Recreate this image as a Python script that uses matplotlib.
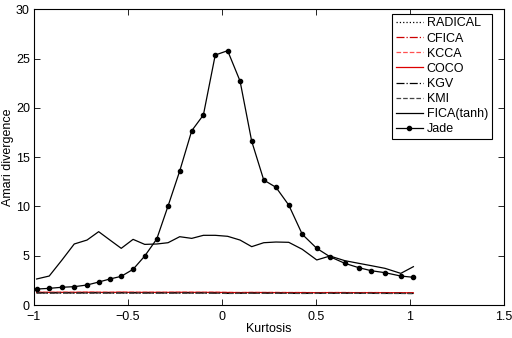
import matplotlib
matplotlib.use("Agg")
import matplotlib.pyplot as plt

plt.rcParams['font.family'] = ['Liberation Sans', 'DejaVu Sans']

# kurtosis grid
kurtosis = [-0.986, -0.919, -0.851, -0.786, -0.718, -0.656, -0.596, -0.536, -0.473, -0.411,
            -0.347, -0.287, -0.225, -0.161, -0.099, -0.036, 0.030, 0.096, 0.158, 0.222,
            0.287, 0.355, 0.427, 0.504, 0.574, 0.653, 0.727, 0.794, 0.867, 0.951, 1.018]

jade = [1.62, 1.69, 1.80, 1.86, 2.03, 2.33, 2.64, 2.91, 3.62, 4.97,
        6.70, 10.04, 13.59, 17.68, 19.28, 25.36, 25.80, 22.72, 16.61, 12.68,
        11.94, 10.14, 7.17, 5.75, 4.90, 4.23, 3.79, 3.48, 3.28, 2.94, 2.81]

fica_tanh = [2.64, 2.94, 4.57, 6.19, 6.59, 7.44, 6.59, 5.75, 6.66, 6.15,
             6.19, 6.32, 6.93, 6.76, 7.07, 7.07, 6.97, 6.59, 5.92, 6.32,
             6.39, 6.36, 5.65, 4.57, 4.97, 4.50, 4.23, 3.99, 3.72, 3.21, 3.89]

radical = [1.25, 1.24, 1.25, 1.24, 1.25, 1.25, 1.24, 1.25, 1.24, 1.25,
           1.24, 1.25, 1.25, 1.24, 1.25, 1.24, 1.22, 1.23, 1.24, 1.23,
           1.24, 1.23, 1.22, 1.23, 1.22, 1.23, 1.22, 1.22, 1.21, 1.22, 1.20]
cfica = [1.27, 1.26, 1.27, 1.26, 1.27, 1.27, 1.26, 1.27, 1.26, 1.27,
         1.26, 1.27, 1.26, 1.26, 1.27, 1.26, 1.25, 1.24, 1.26, 1.25,
         1.26, 1.24, 1.25, 1.24, 1.25, 1.25, 1.24, 1.25, 1.24, 1.23, 1.22]
kcca = [1.30, 1.29, 1.30, 1.29, 1.30, 1.30, 1.29, 1.30, 1.30, 1.29,
        1.30, 1.29, 1.30, 1.30, 1.29, 1.30, 1.28, 1.27, 1.28, 1.27,
        1.28, 1.27, 1.27, 1.26, 1.27, 1.27, 1.26, 1.27, 1.26, 1.25, 1.24]
coco = [1.28, 1.28, 1.28, 1.28, 1.29, 1.28, 1.28, 1.29, 1.28, 1.28,
        1.28, 1.28, 1.29, 1.28, 1.28, 1.28, 1.27, 1.26, 1.27, 1.27,
        1.26, 1.26, 1.26, 1.25, 1.26, 1.26, 1.25, 1.25, 1.25, 1.24, 1.23]
kgv = [1.23, 1.23, 1.24, 1.23, 1.23, 1.24, 1.23, 1.23, 1.24, 1.22,
       1.23, 1.22, 1.23, 1.23, 1.22, 1.21, 1.18, 1.20, 1.21, 1.20,
       1.21, 1.19, 1.18, 1.19, 1.19, 1.20, 1.19, 1.19, 1.18, 1.18, 1.17]
kmi = [1.21, 1.21, 1.22, 1.21, 1.21, 1.22, 1.21, 1.22, 1.21, 1.21,
       1.20, 1.21, 1.21, 1.20, 1.21, 1.20, 1.17, 1.18, 1.19, 1.18,
       1.19, 1.18, 1.17, 1.18, 1.18, 1.19, 1.18, 1.18, 1.17, 1.17, 1.16]

x_ticks = [-1, -0.5, 0, 0.5, 1, 1.5]
x_tick_labels = ["\u22121", "\u22120.5", "0", "0.5", "1", "1.5"]
y_ticks = [0, 5, 10, 15, 20, 25, 30]

fig = plt.figure(figsize=(5.12, 3.38), dpi=100)
ax = fig.add_axes([0.0664, 0.0976, 0.9180, 0.8749])

lw = 0.9
ax.plot(kurtosis, radical, color='black', linestyle=':', linewidth=lw, label='RADICAL')
ax.plot(kurtosis, cfica, color='#cc0000', linestyle='-.', linewidth=lw, label='CFICA')
ax.plot(kurtosis, kcca, color='#ff5050', linestyle='--', linewidth=lw, label='KCCA')
ax.plot(kurtosis, coco, color='#dd0000', linestyle='-', linewidth=lw, label='COCO')
ax.plot(kurtosis, kgv, color='black', linestyle='-.', linewidth=lw, label='KGV')
ax.plot(kurtosis, kmi, color='#444444', linestyle='--', linewidth=lw, label='KMI')
ax.plot(kurtosis, fica_tanh, color='black', linestyle='-', linewidth=lw, label='FICA(tanh)')
ax.plot(kurtosis, jade, color='black', linestyle='-', linewidth=lw, marker='o',
        markersize=3, label='Jade')

ax.set_xlim(-1, 1.5)
ax.set_ylim(0, 30)
ax.set_xticks(x_ticks)
ax.set_xticklabels(x_tick_labels)
ax.set_yticks(y_ticks)
ax.tick_params(direction='in', top=True, right=True, labelsize=9, length=4, width=0.6)
ax.tick_params(axis='x', pad=4.5)
ax.tick_params(axis='y', pad=3)
for s in ax.spines.values():
    s.set_linewidth(0.8)

ax.set_xlabel('Kurtosis', fontsize=9, labelpad=0)
ax.set_ylabel('Amari divergence', fontsize=9, labelpad=1)

leg = ax.legend(loc='upper right', bbox_to_anchor=(0.974, 0.985), fontsize=9,
                fancybox=False, framealpha=1, edgecolor='black', borderpad=0.3,
                labelspacing=0.25, handlelength=2.2, handletextpad=0.3, borderaxespad=0)
leg.get_frame().set_linewidth(0.8)

fig.savefig('out.png', dpi=100)
